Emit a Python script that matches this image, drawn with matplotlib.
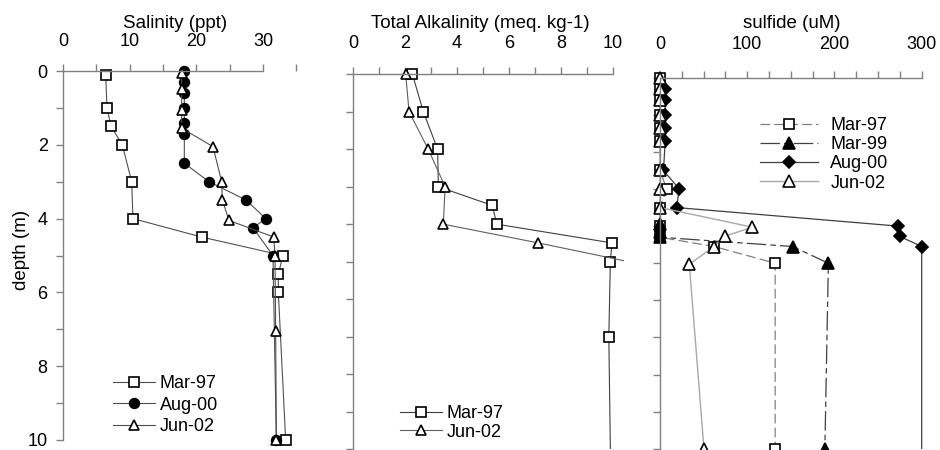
import matplotlib
matplotlib.use("Agg")
import matplotlib.pyplot as plt
from matplotlib.transforms import Bbox, TransformedBbox
from matplotlib.ticker import MultipleLocator

plt.rcParams['font.family'] = ['Liberation Sans', 'DejaVu Sans']
plt.rcParams['lines.scale_dashes'] = False

# ---------------- data ----------------
# Salinity (ppt)
sal_mar97_depth = [0.1, 1.0, 1.5, 2.0, 3.0, 4.0, 4.5, 5.0, 5.5, 6.0, 10.0]
sal_mar97 = [6.4, 6.6, 7.2, 8.9, 10.3, 10.5, 20.8, 33.0, 32.3, 32.3, 33.4]
sal_aug00_depth = [0.0, 0.3, 0.6, 1.0, 1.4, 1.7, 2.5, 3.0, 3.5, 4.0, 4.25, 5.0, 10.0]
sal_aug00 = [18.2, 18.2, 18.2, 18.2, 18.2, 18.2, 18.2, 21.9, 27.5, 30.4, 28.5, 31.5, 32.0]
sal_jun02_depth = [0.05, 0.5, 1.05, 1.55, 2.05, 3.0, 3.5, 4.05, 4.5, 5.0, 7.05, 10.0]
sal_jun02 = [17.8, 17.8, 17.8, 17.8, 22.5, 23.8, 23.9, 24.9, 31.6, 31.8, 31.9, 32.0]

# Total alkalinity (meq. kg-1)
alk_mar97_depth = [0.0, 1.0, 2.0, 3.0, 3.5, 4.0, 4.5, 5.0, 7.0, 11.0]
alk_mar97 = [2.28, 2.70, 3.25, 3.28, 5.36, 5.53, 9.97, 9.91, 9.85, 9.93]
alk_jun02_depth = [0.0, 1.0, 2.0, 3.0, 4.0, 4.5, 5.2]
alk_jun02 = [2.02, 2.15, 2.89, 3.54, 3.47, 7.13, 12.0]

# Sulfide (uM)
sul_mar97_depth = [0.0, 0.3, 0.6, 1.0, 1.35, 1.7, 2.5, 3.0, 3.5, 4.0, 4.3, 4.55, 5.0, 10.0]
sul_mar97 = [0, 0, 0, 0, 0, 0, 0, 7.6, 0, 0, 0, 62, 132, 132]
sul_mar99_depth = [3.95, 4.15, 4.3, 4.55, 5.0, 10.0]
sul_mar99 = [0, 0, 0, 152, 193, 189]
sul_aug00_depth = [0.3, 0.6, 1.0, 1.35, 1.7, 2.5, 3.0, 3.5, 4.0, 4.28, 4.55, 11.0]
sul_aug00 = [6, 6, 6, 6, 6, 4, 22, 19, 273, 275, 300, 300]
sul_jun02_depth = [0.0, 0.3, 0.6, 1.0, 1.35, 1.7, 2.5, 3.0, 3.5, 4.03, 4.27, 4.55, 5.03, 10.0]
sul_jun02 = [0, 0, 0, 0, 0, 0, 0, 0, 0, 106, 74.5, 62, 33.6, 50.4]

sal_ticks = [0, 10, 20, 30]
alk_ticks = [0, 2, 4, 6, 8, 10]
sul_ticks = [0, 100, 200, 300]
depth_ticks = [0, 2, 4, 6, 8, 10]

# ---------------- figure ----------------
W, H = 940, 450
fig = plt.figure(figsize=(W / 100, H / 100), dpi=100)
SPINE = '#808080'
FS = 13
TFS = 13.5


def make_ax(x0, x_at_max, xmax, xlim_hi, ytop, ybot, xpad):
    ppu = (x_at_max - x0) / xmax
    width = ppu * xlim_hi
    ax = fig.add_axes([x0 / W, 1 - ybot / H, width / W, (ybot - ytop) / H])
    ax.set_xlim(0, xlim_hi)
    ax.set_ylim(10, 0)
    ax.xaxis.tick_top()
    for s in ('right', 'bottom'):
        ax.spines[s].set_visible(False)
    for s in ('top', 'left'):
        ax.spines[s].set_color(SPINE)
        ax.spines[s].set_linewidth(1.0)
    ax.spines['top'].set_bounds(0, xmax)
    ax.tick_params(axis='both', which='both', direction='out', color=SPINE,
                   length=5, width=1.0, labelsize=FS)
    ax.tick_params(axis='x', which='both', pad=xpad)
    ax.yaxis.set_major_locator(MultipleLocator(1))
    ax.patch.set_visible(False)
    return ax


mk = dict(markeredgecolor='black', markeredgewidth=1.2, clip_on=False)
leg_kw = dict(bbox_transform=fig.transFigure, frameon=False, fontsize=FS,
              borderpad=0, borderaxespad=0, loc='upper left')

# ---- Salinity ----
ax1 = make_ax(63, 263, 30, 35, 71, 440, 10)
ax1.plot(sal_mar97, sal_mar97_depth, '-', color='#505050', lw=0.8, marker='s',
         ms=6.5, markerfacecolor='white', label='Mar-97', **mk)
ax1.plot(sal_aug00, sal_aug00_depth, '-', color='#505050', lw=0.8, marker='o',
         ms=7, markerfacecolor='black', label='Aug-00', **mk)
ax1.plot(sal_jun02, sal_jun02_depth, '-', color='#505050', lw=0.8, marker='^',
         ms=7.5, markerfacecolor='white', label='Jun-02', **mk)
ax1.set_xticks(sal_ticks)
ax1.xaxis.set_minor_locator(MultipleLocator(5))
ax1.set_yticks(depth_ticks)
ax1.yaxis.set_minor_locator(MultipleLocator(1))
ax1.tick_params(axis='y', pad=6)
ax1.legend(bbox_to_anchor=(113 / W, 1 - 375 / H), handlelength=2.3,
           handletextpad=0.3, labelspacing=0.25, **leg_kw)

# ---- Alkalinity ----
ax2 = make_ax(353.3, 612.7, 10, 10.45, 74.3, 449, 11)
clip2 = TransformedBbox(Bbox([[-1, -1], [10.45, 10]]), ax2.transData)
l1, = ax2.plot(alk_mar97, alk_mar97_depth, '-', color='#404040', lw=0.8, marker='s',
               ms=6.5, markerfacecolor='white', label='Mar-97', **mk)
l2, = ax2.plot(alk_jun02, alk_jun02_depth, '-', color='#606060', lw=0.8, marker='^',
               ms=7.5, markerfacecolor='white', label='Jun-02', **mk)
for ln in (l1, l2):
    ln.set_clip_on(True)
    ln.set_clip_box(clip2)
ax2.set_xticks(alk_ticks)
ax2.xaxis.set_minor_locator(MultipleLocator(1))
ax2.set_yticks(range(0, 11))
ax2.set_yticklabels([])
ax2.legend(bbox_to_anchor=(400 / W, 1 - 405 / H), handlelength=2.3,
           handletextpad=0.3, labelspacing=0.1, **leg_kw)

# ---- Sulfide ----
ax3 = make_ax(660, 921.7, 300, 305, 77.7, 448.7, 13)
clip3 = TransformedBbox(Bbox([[-20, -1], [320, 10]]), ax3.transData)
ax3.plot(sul_mar97, sul_mar97_depth, color='#808080', lw=0.9, ls=(0, (7, 3)),
         marker='s', ms=6.5, markerfacecolor='white', label='Mar-97', **mk)
ax3.plot(sul_mar99, sul_mar99_depth, color='#404040', lw=0.9, ls=(0, (14, 3, 4, 3)),
         marker='^', ms=8, markerfacecolor='black', label='Mar-99', **mk)
l3, = ax3.plot(sul_aug00, sul_aug00_depth, '-', color='#404040', lw=0.9,
               marker='D', ms=6.5, markerfacecolor='black', label='Aug-00', **mk)
l3.set_clip_on(True)
l3.set_clip_box(clip3)
ax3.plot(sul_jun02, sul_jun02_depth, '-', color='#a8a8a8', lw=1.0,
         marker='^', ms=8, markerfacecolor='white', label='Jun-02', **mk)
ax3.set_xticks(sul_ticks)
ax3.xaxis.set_minor_locator(MultipleLocator(25))
ax3.set_yticks(range(0, 11))
ax3.set_yticklabels([])
ax3.legend(bbox_to_anchor=(760 / W, 1 - 117 / H), handlelength=3.2,
           handletextpad=0.7, labelspacing=0.12, **leg_kw)

# ---- titles ----
fig.text(175 / W, 1 - 23 / H, 'Salinity (ppt)', ha='center', va='center', fontsize=TFS)
fig.text(480 / W, 1 - 23 / H, 'Total Alkalinity (meq. kg-1)', ha='center', va='center', fontsize=TFS)
fig.text(792 / W, 1 - 23 / H, 'sulfide (uM)', ha='center', va='center', fontsize=TFS)
fig.text(22 / W, 1 - 250 / H, 'depth (m)', ha='center', va='center', rotation=90, fontsize=TFS)

fig.savefig('out.png', dpi=100)
